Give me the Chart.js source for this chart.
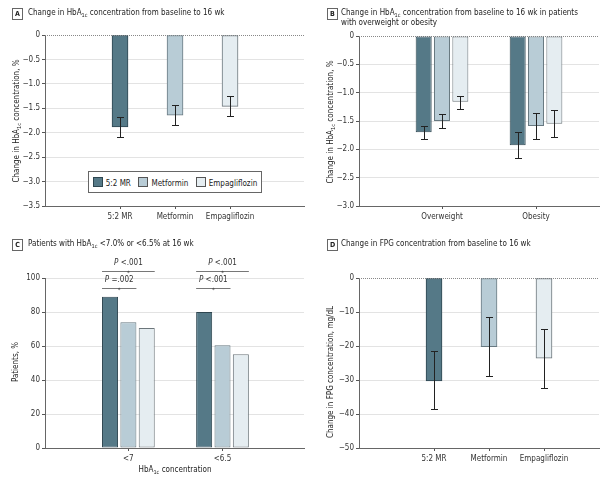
<!DOCTYPE html>
<html lang="en">
<head>
    <meta charset="UTF-8">
    <title>HbA1c and FPG change by treatment</title>
    <script src="https://cdn.jsdelivr.net/npm/chart.js"></script>
    <style>
        body {
            margin: 0;
            background: #fff;
            font-family: 'DejaVu Sans Condensed', 'DejaVu Sans', sans-serif;
            color: #222;
        }

        #figure {
            position: relative;
            width: 600px;
            height: 481px;
            overflow: hidden;
        }

        canvas {
            position: absolute;
        }

        .tag {
            position: absolute;
            width: 9px;
            height: 10px;
            border: 1px solid #666;
            font-size: 7px;
            font-weight: bold;
            line-height: 10px;
            text-align: center;
        }

        .title {
            position: absolute;
            font-size: 8px;
            line-height: 10px;
            white-space: nowrap;
        }

        .ytitle,
        .xtitle {
            position: absolute;
            font-size: 8px;
            white-space: nowrap;
            transform: translate(-50%, -50%);
        }

        .ytitle {
            transform: translate(-50%, -50%) rotate(-90deg);
        }

        sub {
            font-size: 70%;
            vertical-align: -2px;
            line-height: 0;
        }

        .legend {
            position: absolute;
            left: 88px;
            top: 171px;
            width: 172px;
            height: 20px;
            border: 1px solid #666;
            background: #fff;
            display: flex;
            align-items: center;
            justify-content: space-around;
            font-size: 8px;
        }

        .legend span {
            display: inline-block;
            width: 8px;
            height: 8px;
            margin-right: 3px;
            vertical-align: -1px;
            border: 1px solid #555;
        }
    </style>
</head>
<body>
<div id="figure">
    <canvas id="chartA" width="308" height="230" style="left:0;top:0"></canvas>
    <canvas id="chartB" width="300" height="230" style="left:300px;top:0"></canvas>
    <canvas id="chartC" width="308" height="230" style="left:0;top:240px"></canvas>
    <canvas id="chartD" width="300" height="230" style="left:300px;top:240px"></canvas>

    <div class="tag" style="left:12px;top:8px">A</div>
    <div class="title" style="left:28px;top:8px">Change in HbA<sub>1c</sub> concentration from baseline to 16 wk</div>
    <div class="tag" style="left:327px;top:8px">B</div>
    <div class="title" style="left:341px;top:8px">Change in HbA<sub>1c</sub> concentration from baseline to 16 wk in patients<br>with overweight or obesity</div>
    <div class="tag" style="left:12px;top:239px">C</div>
    <div class="title" style="left:28px;top:239px">Patients with HbA<sub>1c</sub> &lt;7.0% or &lt;6.5% at 16 wk</div>
    <div class="tag" style="left:327px;top:239px">D</div>
    <div class="title" style="left:341px;top:239px">Change in FPG concentration from baseline to 16 wk</div>

    <div class="ytitle" style="left:16px;top:121px">Change in HbA<sub>1c</sub> concentration, %</div>
    <div class="ytitle" style="left:330px;top:122px">Change in HbA<sub>1c</sub> concentration, %</div>
    <div class="ytitle" style="left:15px;top:362px">Patients, %</div>
    <div class="ytitle" style="left:330px;top:372px">Change in FPG concentration, mg/dL</div>
    <div class="xtitle" style="left:175px;top:469px">HbA<sub>1c</sub> concentration</div>

    <div class="legend">
        <div><span style="background:#557987;border-color:#2e4650"></span>5:2 MR</div>
        <div><span style="background:#b8ccd6"></span>Metformin</div>
        <div><span style="background:#e5edf1"></span>Empagliflozin</div>
    </div>
</div>

<script>
    // treatments and colours
    const treatments = ['5:2 MR', 'Metformin', 'Empagliflozin'];
    const fills = ['#557987', '#b8ccd6', '#e5edf1'];
    const borders = ['#2e4650', '#687981', '#6c767b'];

    // A: HbA1c change, all patients (%), with CI ends
    const hba1cChange = [-1.88, -1.64, -1.46];
    const hba1cLow = [-2.09, -1.85, -1.66];
    const hba1cHigh = [-1.67, -1.43, -1.25];

    // B: HbA1c change by BMI group (%)
    const bmiGroups = ['Overweight', 'Obesity'];
    const bmiChangeMR = [-1.70, -1.93];
    const bmiChangeMet = [-1.50, -1.59];
    const bmiChangeEmpa = [-1.16, -1.55];
    const bmiLowMR = [-1.82, -2.16];
    const bmiLowMet = [-1.62, -1.82];
    const bmiLowEmpa = [-1.28, -1.78];
    const bmiHighMR = [-1.58, -1.70];
    const bmiHighMet = [-1.38, -1.35];
    const bmiHighEmpa = [-1.05, -1.31];

    // C: patients reaching target (%)
    const targets = ['<7', '<6.5'];
    const reachedMR = [89, 80];
    const reachedMet = [74, 60.4];
    const reachedEmpa = [70.6, 55.1];
    const pLabels = [['P =.002', 'P <.001'], ['P <.001', 'P <.001']];

    // D: FPG change (mg/dL)
    const fpgChange = [-30.3, -20.2, -23.6];
    const fpgLow = [-38.6, -28.9, -32.3];
    const fpgHigh = [-21.6, -11.6, -15.0];

    const fontStack = "'DejaVu Sans Condensed', 'DejaVu Sans', sans-serif";
    Chart.defaults.font.family = fontStack;
    Chart.defaults.font.size = 8;
    Chart.defaults.color = '#333';

    // draws CI whiskers from plugin options
    const errorBars = {
        id: 'errorBars',
        afterDatasetsDraw(chart, args, opts) {
            if (!opts.low) return;
            const ctx = chart.ctx;
            const y = chart.scales.y;
            ctx.save();
            ctx.strokeStyle = '#222';
            ctx.lineWidth = 1;
            opts.low.forEach((lows, i) => {
                chart.getDatasetMeta(i).data.forEach((bar, j) => {
                    const x = Math.round(bar.x) + 0.5;
                    const top = Math.round(y.getPixelForValue(opts.high[i][j])) + 0.5;
                    const bot = Math.round(y.getPixelForValue(lows[j])) + 0.5;
                    ctx.beginPath();
                    ctx.moveTo(x, top);
                    ctx.lineTo(x, bot);
                    ctx.moveTo(x - 3.5, top);
                    ctx.lineTo(x + 3.5, top);
                    ctx.moveTo(x - 3.5, bot);
                    ctx.lineTo(x + 3.5, bot);
                    ctx.stroke();
                });
            });
            ctx.restore();
        }
    };

    // dotted line at zero for the change panels
    const zeroLine = {
        id: 'zeroLine',
        beforeDatasetsDraw(chart, args, opts) {
            if (!opts.show) return;
            const {ctx, chartArea} = chart;
            const y = Math.round(chart.scales.y.getPixelForValue(0)) + 0.5;
            ctx.save();
            ctx.strokeStyle = '#888';
            ctx.lineWidth = 1;
            ctx.setLineDash([1, 1]);
            ctx.beginPath();
            ctx.moveTo(chartArea.left, y);
            ctx.lineTo(chartArea.right, y);
            ctx.stroke();
            ctx.restore();
        }
    };

    // P value brackets over the bar groups in C
    const pBrackets = {
        id: 'pBrackets',
        afterDraw(chart, args, opts) {
            if (!opts.labels) return;
            const ctx = chart.ctx;
            const y = chart.scales.y;
            const first = chart.getDatasetMeta(0).data;
            ctx.save();
            ctx.strokeStyle = '#777';
            ctx.fillStyle = '#333';
            ctx.lineWidth = 1;
            first.forEach((bar, j) => {
                opts.labels[j].forEach((label, k) => {
                    const last = chart.getDatasetMeta(k + 1).data[j];
                    const x0 = bar.x - bar.width / 2;
                    const x1 = last.x + last.width / 2;
                    const ly = Math.round(y.getPixelForValue(opts.levels[k])) + 0.5;
                    const cx = (x0 + x1) / 2;
                    ctx.beginPath();
                    ctx.moveTo(x0, ly);
                    ctx.lineTo(x1, ly);
                    ctx.stroke();
                    ctx.textAlign = 'center';
                    ctx.textBaseline = 'alphabetic';
                    ctx.font = '6px ' + fontStack;
                    ctx.fillText('*', cx, ly + 3);
                    // italic P then the rest of the label
                    ctx.textBaseline = 'middle';
                    ctx.textAlign = 'left';
                    const rest = label.slice(1);
                    ctx.font = 'italic 8px ' + fontStack;
                    const wP = ctx.measureText('P').width;
                    ctx.font = '8px ' + fontStack;
                    const wR = ctx.measureText(rest).width;
                    const start = cx - (wP + wR) / 2;
                    ctx.font = 'italic 8px ' + fontStack;
                    ctx.fillText('P', start, ly - 9);
                    ctx.font = '8px ' + fontStack;
                    ctx.fillText(rest, start + wP, ly - 9);
                });
            });
            ctx.restore();
        }
    };

    Chart.register(errorBars, zeroLine, pBrackets);

    const fmt = v => v === 0 ? '0' : '\u2212' + Math.abs(v).toFixed(1);
    const fmtInt = v => v === 0 ? '0' : (v < 0 ? '\u2212' : '') + Math.abs(v);

    function makeOptions(cfg) {
        return {
            responsive: false,
            animation: false,
            layout: {padding: {top: cfg.top, right: cfg.right, left: 0, bottom: 0}},
            plugins: {
                legend: {display: false},
                tooltip: {enabled: false},
                errorBars: {low: cfg.low, high: cfg.high},
                zeroLine: {show: cfg.zero},
                pBrackets: {labels: cfg.pLabels, levels: [94.4, 104.2]}
            },
            scales: {
                x: {
                    type: 'linear',
                    min: cfg.xMin,
                    max: cfg.xMax,
                    offset: false,
                    afterBuildTicks: scale => {
                        scale.ticks = cfg.labels.map((l, i) => ({value: i + 1}));
                    },
                    afterFit: scale => { scale.height = cfg.xHeight; },
                    ticks: {
                        autoSkip: false,
                        maxRotation: 0,
                        padding: 3,
                        callback: v => cfg.labels[v - 1]
                    },
                    grid: {drawOnChartArea: false, tickLength: 3, tickColor: '#555', offset: false},
                    border: {color: '#666'}
                },
                y: {
                    min: cfg.yMin,
                    max: cfg.yMax,
                    afterFit: scale => { scale.width = cfg.yWidth; },
                    ticks: {
                        stepSize: cfg.step,
                        padding: 2,
                        callback: cfg.format
                    },
                    grid: {
                        color: c => (c.tick && c.tick.value === 0 && cfg.zero) ? 'rgba(0,0,0,0)' : '#e3e3e3',
                        tickLength: 3,
                        tickColor: '#555'
                    },
                    border: {color: '#666'}
                }
            }
        };
    }

    function groupedSets(series) {
        return series.map((s, k) => ({
            label: treatments[k],
            data: s.map((v, i) => ({x: i + 1, y: v})),
            backgroundColor: fills[k],
            borderColor: borders[k],
            borderWidth: 1,
            borderSkipped: false,
            categoryPercentage: 0.585,
            barPercentage: 0.873
        }));
    }

    function singleSet(values) {
        return [{
            data: values.map((v, i) => ({x: i + 1, y: v})),
            backgroundColor: fills,
            borderColor: borders,
            borderWidth: 1,
            borderSkipped: false,
            barThickness: 16
        }];
    }

    // A
    new Chart(document.getElementById('chartA'), {
        type: 'bar',
        data: {datasets: singleSet(hba1cChange)},
        options: makeOptions({
            top: 35, right: 4, xHeight: 24, yWidth: 45,
            xMin: -0.364, xMax: 4.345, yMin: -3.5, yMax: 0, step: 0.5, format: fmt,
            labels: treatments, low: [hba1cLow], high: [hba1cHigh], zero: true
        })
    });

    // B
    new Chart(document.getElementById('chartB'), {
        type: 'bar',
        data: {datasets: groupedSets([bmiChangeMR, bmiChangeMet, bmiChangeEmpa])},
        options: makeOptions({
            top: 36, right: 1, xHeight: 24, yWidth: 59,
            xMin: 0.117, xMax: 2.67, yMin: -3, yMax: 0, step: 0.5, format: fmt,
            labels: bmiGroups,
            low: [bmiLowMR, bmiLowMet, bmiLowEmpa],
            high: [bmiHighMR, bmiHighMet, bmiHighEmpa],
            zero: true
        })
    });

    // C
    new Chart(document.getElementById('chartC'), {
        type: 'bar',
        data: {datasets: groupedSets([reachedMR, reachedMet, reachedEmpa])},
        options: makeOptions({
            top: 38, right: 4, xHeight: 22, yWidth: 45,
            xMin: 0.114, xMax: 2.866, yMin: 0, yMax: 100, step: 20, format: fmtInt,
            labels: targets, pLabels: pLabels, zero: false
        })
    });

    // D
    new Chart(document.getElementById('chartD'), {
        type: 'bar',
        data: {datasets: singleSet(fpgChange)},
        options: makeOptions({
            top: 38, right: 1, xHeight: 22, yWidth: 59,
            xMin: -0.364, xMax: 4.0, yMin: -50, yMax: 0, step: 10, format: fmtInt,
            labels: treatments, low: [fpgLow], high: [fpgHigh], zero: true
        })
    });
</script>
</body>
</html>
